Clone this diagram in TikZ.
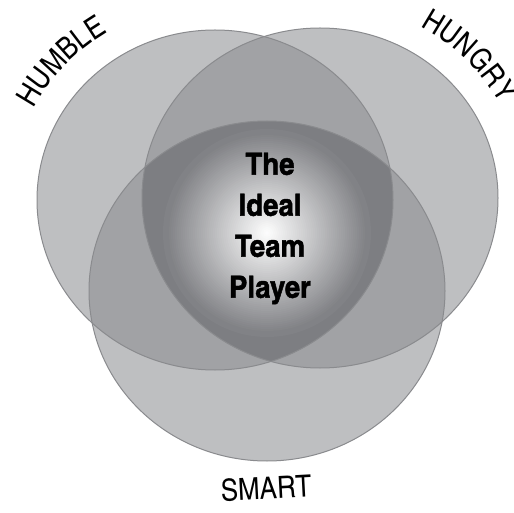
\documentclass[tikz,border=0pt]{standalone}
\usepackage{fontspec}
\usetikzlibrary{decorations.text}
\newfontfamily\heroscn{texgyreheroscn}[Extension=.otf, UprightFont=*-regular, BoldFont=*-bold, BoldFeatures={FakeBold=1.5}, FakeStretch=1.1]
\newfontfamily\heroslab{texgyreheroscn}[Extension=.otf, UprightFont=*-regular, BoldFont=*-bold, FakeStretch=1.04]
\newcommand\vennlabelfont{\heroslab\fontsize{30.5}{36}\selectfont}
\definecolor{oneset}{HTML}{BEBFC1}
\definecolor{twosets}{HTML}{A1A2A5}
\definecolor{allsets}{HTML}{818286}
\definecolor{allsetsrim}{HTML}{7D7E82}
\definecolor{rimline}{HTML}{8A8B8E}

\begin{document}
\begin{tikzpicture}[x=1pt, y=1pt,
    vennset/.style={x radius=178pt, y radius=170pt},
    rim/.style={draw=rimline, line width=1pt},
    arclabel/.style={decorate, decoration={text along path, text align=center, text={|\vennlabelfont|#1}}}]
  \useasboundingbox (0,0) rectangle (514,512);
  \coordinate (humble) at (215,312);
  \coordinate (hungry) at (320,314);
  \coordinate (smart) at (267,221);
  \coordinate (glow) at (267,279);
  % single sets
  \fill[oneset] (humble) ellipse [vennset];
  \fill[oneset] (hungry) ellipse [vennset];
  \fill[oneset] (smart) ellipse [vennset];
  % pairwise overlaps
  \begin{scope}
    \clip (humble) ellipse [vennset];
    \fill[twosets] (hungry) ellipse [vennset];
    \fill[twosets] (smart) ellipse [vennset];
  \end{scope}
  \begin{scope}
    \clip (hungry) ellipse [vennset];
    \fill[twosets] (smart) ellipse [vennset];
  \end{scope}
  % all three, bright in the middle
  \begin{scope}
    \clip (humble) ellipse [vennset];
    \clip (hungry) ellipse [vennset];
    \fill[allsetsrim] (smart) ellipse [vennset];
    \foreach \r [evaluate=\r as \p using {max(0,100-\r)}] in {104,102,...,2}
      \fill[white!\p!allsets] (glow) circle (\r pt);
  \end{scope}
  \draw[rim] (humble) ellipse [vennset];
  \draw[rim] (hungry) ellipse [vennset];
  \draw[rim] (smart) ellipse [vennset];
  % labels
  \node[align=center, inner sep=0pt, font=\heroscn\bfseries\fontsize{30.6}{41}\selectfont] (ideal) at (270,283.5) {The\\Ideal\\Team\\Player};
  \path[arclabel=HUMBLE] (humble) ++(157:205pt and 197pt) arc [start angle=157, end angle=117, x radius=205pt, y radius=197pt];
  \path[arclabel=HUNGRY] (hungry) ++(64.5:205pt and 197pt) arc [start angle=64.5, end angle=24.5, x radius=205pt, y radius=197pt];
  \node[font=\vennlabelfont, rotate=3, inner sep=0pt] (smartlabel) at (266,23.5) {SMART};
\end{tikzpicture}
\end{document}
